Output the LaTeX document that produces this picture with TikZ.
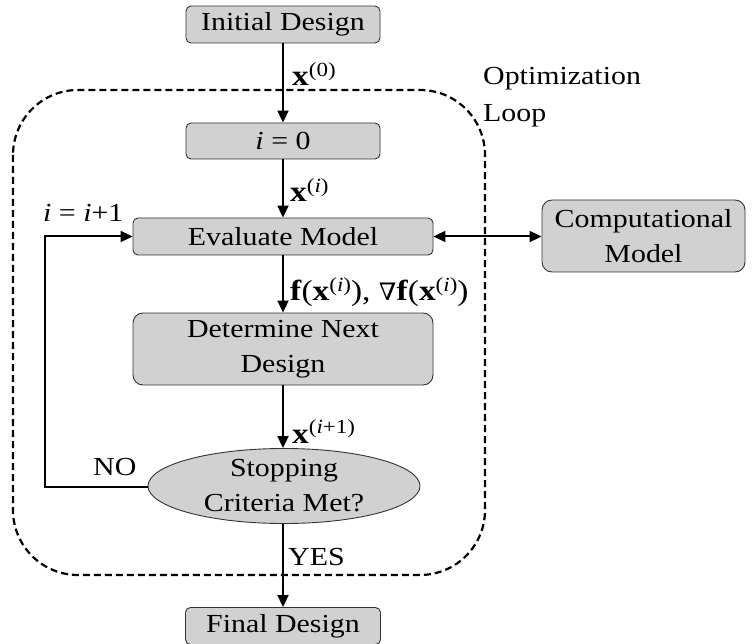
\documentclass[tikz,border=0pt]{standalone}
\usepackage{fontspec}
\setmainfont{Liberation Serif}[FakeStretch=1.15]
\newfontfamily\nablafont{DejaVu Serif}[FakeStretch=1.05]
\usetikzlibrary{shapes.geometric,arrows.meta}
\newcommand{\bx}{\textbf{x}}
\newcommand{\bff}{\textbf{f}}
\newcommand{\sps}[1]{\raisebox{0.7ex}{\fontsize{20}{20}\selectfont(#1)}}
\tikzset{
  blk/.style={draw=black!80, line width=0.9pt, fill=black!18, rounded corners=5pt, align=center, inner sep=0pt},
  conn/.style={line width=2pt, -{Triangle[length=12pt,width=11pt]}},
  lbl/.style={anchor=base west, inner sep=0pt},
  lblfont/.style={font=\fontsize{29}{29}\selectfont},
}
\begin{document}
\begin{tikzpicture}[x=1pt,y=-1pt,font=\fontsize{26}{35}\selectfont]
\useasboundingbox (0,0) rectangle (752,644);
% dashed loop
\draw[line width=2.2pt, dash pattern=on 7pt off 4pt, rounded corners=65pt] (13,90) rectangle (485,575);
\node[anchor=base west, align=left, inner sep=0pt, font=\fontsize{26}{37}\selectfont] (optlbl) at (483,122) {Optimization\\Loop};
% nodes
\node[blk, minimum width=194pt, minimum height=37pt] (init) at (283,24.5) {Initial Design};
\node[blk, minimum width=194pt, minimum height=36pt] (izero) at (283,141) {\textit{i} = 0};
\node[blk, minimum width=300pt, minimum height=37pt] (eval) at (283,236.5) {Evaluate Model};
\node[blk, minimum width=203pt, minimum height=72pt, rounded corners=10pt] (comp) at (643.5,236) {Computational\\Model};
\node[blk, minimum width=300pt, minimum height=72pt, rounded corners=10pt] (det) at (283,349) {Determine Next\\Design};
\node[draw=black!80, line width=0.9pt, fill=black!18, ellipse, minimum width=272pt, minimum height=75pt, inner sep=0pt, align=center] (stop) at (284,486) {Stopping\\Criteria Met?};
\node[blk, minimum width=195pt, minimum height=37pt] (final) at (283,626) {Final Design};
% connectors
\draw[conn] (init) -- (izero);
\draw[conn] (izero) -- (eval);
\draw[conn] (eval) -- (det);
\draw[conn] (det) -- (stop.north -| det.south);
\draw[conn] (stop.south -| final.north) -- (final);
\draw[line width=2pt, {Triangle[length=12pt,width=11pt]}-{Triangle[length=12pt,width=11pt]}] (eval.east) -- (comp.west |- eval.east);
\coordinate (cl) at (45,487);
\coordinate (cu) at (45,236.5);
\draw[conn] (stop.west |- cl) -- (cl) -- (cu) -- (eval.west);
% labels
\node[lbl, lblfont] (l0) at (292,86) {\bx\sps{0}};
\node[lbl, lblfont] (li) at (290,202) {\bx\sps{\textit{i}}};
\node[lbl, lblfont] (lf) at (290,301) {\bff(\bx\sps{\textit{i}}), {\nablafont\fontsize{24}{24}\selectfont∇}\bff(\bx\sps{\textit{i}})};
\node[lbl, lblfont] (li1) at (292,443) {\bx\sps{\textit{i}+1}};
\node[lbl] (linc) at (43,222) {\textit{i} = \textit{i}+1};
\node[lbl] (lno) at (93,475) {NO};
\node[lbl] (lyes) at (288,565) {YES};
\end{tikzpicture}
\end{document}
